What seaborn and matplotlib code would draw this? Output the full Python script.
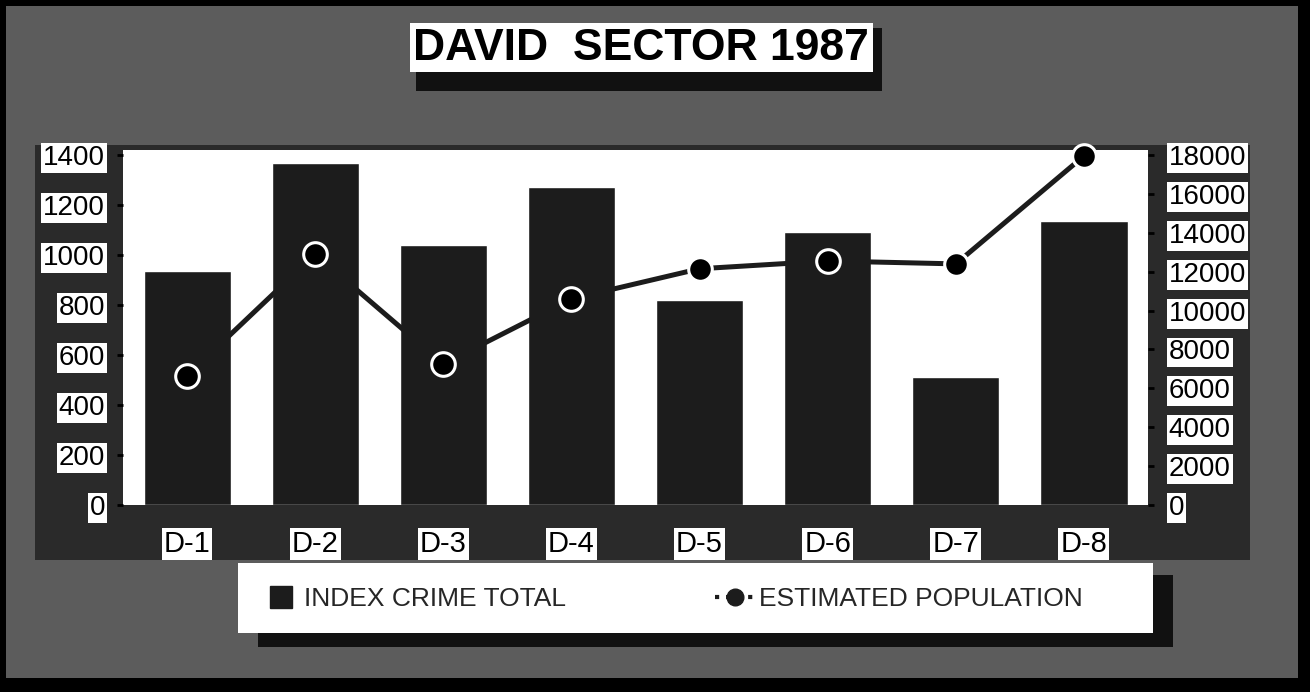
import numpy as np
import pandas as pd
import matplotlib
matplotlib.use('Agg')
import matplotlib.pyplot as plt
from matplotlib.patches import Rectangle
from matplotlib.lines import Line2D
import seaborn as sns

# dados
distritos = ['D-1', 'D-2', 'D-3', 'D-4', 'D-5', 'D-6', 'D-7', 'D-8']
crimes = [937, 1367, 1040, 1273, 820, 1093, 511, 1137]
populacao = [6650, 12900, 7250, 10600, 12150, 12550, 12400, 17950]
ticks_esq = [0, 200, 400, 600, 800, 1000, 1200, 1400]
ticks_dir = [0, 2000, 4000, 6000, 8000, 10000, 12000, 14000, 16000, 18000]

sns.set_theme(style="white")
plt.rcParams['font.family'] = ['Liberation Sans', 'DejaVu Sans']

W, H = 1310, 692
fig = plt.figure(figsize=(W / 100, H / 100), dpi=100, facecolor='black')

def caixa(x0, y0, x1, y1, cor, z=0):
    # retangulo em pixels (origem no topo)
    r = Rectangle((x0 / W, 1 - y1 / H), (x1 - x0) / W, (y1 - y0) / H,
                  transform=fig.transFigure, facecolor=cor, edgecolor='none', zorder=z)
    fig.add_artist(r)

# fundo cinza e sombras
caixa(6, 6, 1298, 678, '#5c5c5c', z=-10)
caixa(35, 145, 1250, 560, '#2a2a2a', z=-9)
caixa(416, 28, 882, 91, '#111111', z=-8)
caixa(410, 23, 873, 72, 'white', z=-7)
caixa(258, 575, 1173, 647, '#111111', z=-8)
caixa(238, 563, 1153, 633, 'white', z=-7)

fig.text(641 / W, 1 - 48 / H, 'DAVID  SECTOR 1987', ha='center', va='center',
         fontsize=32, fontweight='bold', color='black')

ax = fig.add_axes([123 / W, 1 - 505 / H, (1148 - 123) / W, (505 - 150) / H])
ax.set_facecolor('white')
df = pd.DataFrame({'distrito': distritos, 'crimes': crimes, 'populacao': populacao})

cor_barra = '#1c1c1c'
sns.barplot(data=df, x='distrito', y='crimes', color=cor_barra, width=0.68,
            saturation=1, ax=ax)
ax.set_ylim(0, 1420)
ax.set_yticks(ticks_esq)
ax.set_xlabel('')
ax.set_ylabel('')

ax2 = ax.twinx()
sns.lineplot(data=df, x='distrito', y='populacao', color=cor_barra, linewidth=3.6,
             marker='o', markersize=17, markerfacecolor='black',
             markeredgecolor='white', markeredgewidth=2.2, sort=False,
             clip_on=False, ax=ax2)
ax2.set_ylim(0, 18000 * 1420 / 1400)
ax2.set_yticks(ticks_dir)
ax2.set_ylabel('')
ax2.set_xlim(-0.5, 7.5)

for a in (ax, ax2):
    for s in a.spines.values():
        s.set_visible(False)

ax.tick_params(axis='y', left=True, length=4, width=2, color='black', pad=9, labelsize=20)
ax.tick_params(axis='x', bottom=False, pad=12, labelsize=21)
ax2.tick_params(axis='y', right=True, length=4, width=2, color='black', pad=11, labelsize=20)

for lbl in ax.get_yticklabels() + ax2.get_yticklabels() + ax.get_xticklabels():
    lbl.set_bbox(dict(facecolor='white', edgecolor='none', pad=1.5))
    lbl.set_color('black')

# legenda em duas partes
h1 = Line2D([], [], marker='s', linestyle='none', markersize=16, color=cor_barra)
h2 = Line2D([], [], marker='o', linestyle=':', linewidth=3, markersize=12, color=cor_barra)
fonte_leg = {'size': 19}
fig.legend([h1], ['INDEX CRIME TOTAL'], loc='center left',
           bbox_to_anchor=(255 / W, 1 - 599 / H), frameon=False, borderpad=0,
           handlelength=1, handletextpad=0.35, prop=fonte_leg)
fig.legend([h2], ['ESTIMATED POPULATION'], loc='center left',
           bbox_to_anchor=(702 / W, 1 - 599 / H), frameon=False, borderpad=0,
           handlelength=1.5, handletextpad=0.15, prop=fonte_leg)

fig.savefig('out.png', dpi=100, facecolor=fig.get_facecolor())
